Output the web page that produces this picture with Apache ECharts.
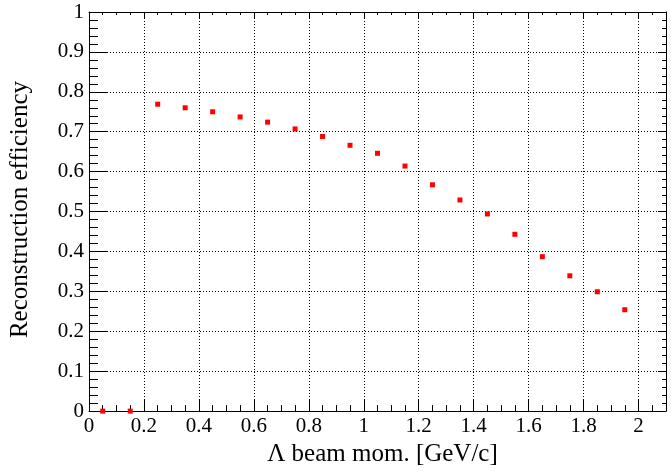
<!DOCTYPE html>
<html><head><meta charset="utf-8">
<script src="https://cdn.jsdelivr.net/npm/echarts@6/dist/echarts.min.js"></script>
<style>html,body{margin:0;padding:0;background:#fff}#c{width:671px;height:472px}</style>
</head><body><div id="c"></div>
<script>
const momentum = [0.05,0.15,0.25,0.35,0.45,0.55,0.65,0.75,0.85,0.95,1.05,1.15,1.25,1.35,1.45,1.55,1.65,1.75,1.85,1.95];
const efficiency = [0,0,0.769,0.760,0.750,0.737,0.724,0.707,0.688,0.666,0.646,0.614,0.567,0.529,0.494,0.443,0.387,0.339,0.299,0.254];
const xTitle = 'Λ beam mom. [GeV/c]';
const yTitle = 'Reconstruction efficiency';

const font = 'Liberation Serif';
const chart = echarts.init(document.getElementById('c'));
const grid = {left:87, right:5, top:12, bottom:56};
const dotted = {show:true, lineStyle:{color:'#000', width:1, type:[1,2]}};
chart.setOption({
  animation:false,
  grid: grid,
  xAxis: [{
    type:'value', min:0, max:2.1, interval:0.2, position:'bottom',
    axisLine:{show:true, onZero:false, lineStyle:{color:'#000', width:1}},
    axisTick:{show:true, inside:true, length:12, lineStyle:{color:'#000'}},
    minorTick:{show:true, splitNumber:4, length:6, lineStyle:{color:'#000'}},
    splitLine: dotted,
    axisLabel:{color:'#000', fontFamily:font, fontSize:21, margin:5, showMaxLabel:false},
    name: xTitle, nameLocation:'middle', nameGap:30,
    nameTextStyle:{color:'#000', fontFamily:font, fontSize:25, padding:[0,0,0,10]}
  },{
    type:'value', min:0, max:2.1, interval:0.2, position:'top',
    axisLine:{show:true, onZero:false, lineStyle:{color:'#000', width:1}},
    axisTick:{show:true, inside:true, length:6, lineStyle:{color:'#000'}},
    minorTick:{show:true, splitNumber:4, length:3, lineStyle:{color:'#000'}},
    splitLine:{show:false}, axisLabel:{show:false}
  }],
  yAxis: [{
    type:'value', min:0, max:1, interval:0.1, position:'left',
    axisLine:{show:true, onZero:false, lineStyle:{color:'#000', width:1}},
    axisTick:{show:true, inside:true, length:18, lineStyle:{color:'#000'}},
    minorTick:{show:true, splitNumber:5, length:9, lineStyle:{color:'#000'}},
    splitLine: dotted,
    axisLabel:{color:'#000', fontFamily:font, fontSize:21, margin:5},
    name: yTitle, nameLocation:'middle', nameGap:56,
    nameTextStyle:{color:'#000', fontFamily:font, fontSize:25, padding:[0,0,0,4]}
  },{
    type:'value', min:0, max:1, interval:0.1, position:'right',
    axisLine:{show:true, onZero:false, lineStyle:{color:'#000', width:1}},
    axisTick:{show:true, inside:true, length:8, lineStyle:{color:'#000'}},
    minorTick:{show:true, splitNumber:5, length:4, lineStyle:{color:'#000'}},
    splitLine:{show:false}, axisLabel:{show:false}
  }],
  series: [{
    type:'scatter', xAxisIndex:0, yAxisIndex:0,
    symbol:'rect', symbolSize:5, clip:false,
    itemStyle:{color:'#ff0000', opacity:1},
    data: momentum.map((m,i)=>[m, efficiency[i]])
  }]
});
</script></body></html>
